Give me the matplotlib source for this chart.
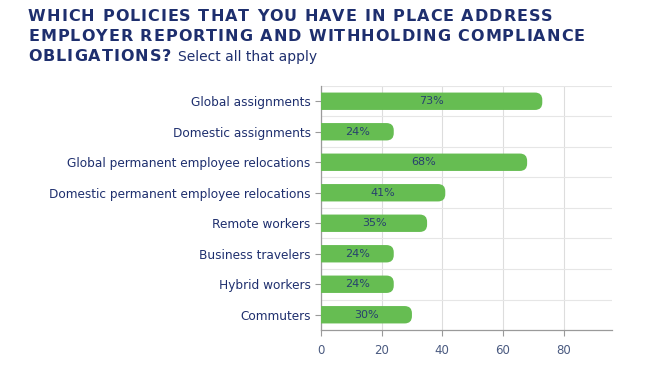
import matplotlib.pyplot as plt
from matplotlib.patches import FancyBboxPatch
from matplotlib.font_manager import FontProperties

categories = ["Global assignments", "Domestic assignments", "Global permanent employee relocations",
              "Domestic permanent employee relocations", "Remote workers", "Business travelers",
              "Hybrid workers", "Commuters"]
values = [73, 24, 68, 41, 35, 24, 24, 30]
xticks = [0, 20, 40, 60, 80]
title_lines = ["WHICH POLICIES THAT YOU HAVE IN PLACE ADDRESS",
               "EMPLOYER REPORTING AND WITHHOLDING COMPLIANCE",
               "OBLIGATIONS?"]
subtitle = "Select all that apply"

navy = "#1e2f6e"
green = "#66bd52"
grey = "#9a9a9a"

W, H = 653, 367
fig = plt.figure(figsize=(W / 100, H / 100), dpi=100)
ax = fig.add_axes([321 / W, 1 - 330 / H, 291 / W, 244 / H])

n = len(categories)
ax.set_xlim(0, 96)
ax.set_ylim(n - 0.5, -0.5)

# pixels per data unit, to keep the rounded ends circular
px_x = 291 / 96
px_y = 244 / n
aspect = px_x / px_y

bar_h = 0.57
for i, v in enumerate(values):
    # start left of zero so only the right end shows rounded
    box = FancyBboxPatch((-6, i - bar_h / 2), v + 6, bar_h,
                         boxstyle="round,pad=0,rounding_size=2.4",
                         mutation_aspect=aspect, facecolor=green, edgecolor="none",
                         zorder=3, clip_on=True)
    ax.add_patch(box)
    ax.text(v / 2, i, f"{v}%", ha="center", va="center", fontsize=8,
            color="#27406e", zorder=4)

ax.set_yticks(range(n))
ax.set_yticklabels(categories, fontsize=8.7, color=navy)
ax.set_yticks([i + 0.5 for i in range(-1, n - 1)], minor=True)
ax.set_xticks(xticks)
ax.set_xticklabels([str(t) for t in xticks], fontsize=8.5, color="#4a5a80")

ax.grid(axis="x", which="major", color="#dddddd", linewidth=0.8, zorder=0)
ax.grid(axis="y", which="minor", color="#e6e6e6", linewidth=0.8, zorder=0)
ax.tick_params(axis="y", which="minor", length=0)
ax.tick_params(axis="both", which="major", color=grey, length=4, width=0.8)
ax.tick_params(axis="x", pad=6)
for s in ["top", "right"]:
    ax.spines[s].set_visible(False)
for s in ["left", "bottom"]:
    ax.spines[s].set_color(grey)
    ax.spines[s].set_linewidth(0.9)

# title with letter spacing (wide display font look)
renderer = fig.canvas.get_renderer()
fp = FontProperties(family="DejaVu Sans", weight="bold", size=11.5)


def tracked(x0, y0, s, tracking):
    x = x0
    for ch in s:
        fig.text(x / W, 1 - y0 / H, ch, fontproperties=fp, color=navy)
        w, _, _ = renderer.get_text_width_height_descent(ch, fp, ismath=False)
        x += w + tracking
    return x - tracking


tracked(28, 21, title_lines[0], 1.0)
tracked(28, 41, title_lines[1], 1.0)
end = tracked(28, 61, title_lines[2], 1.0)
fig.text((end + 7) / W, 1 - 61 / H, subtitle, fontsize=10, color=navy)

fig.savefig("out.png", dpi=100)
